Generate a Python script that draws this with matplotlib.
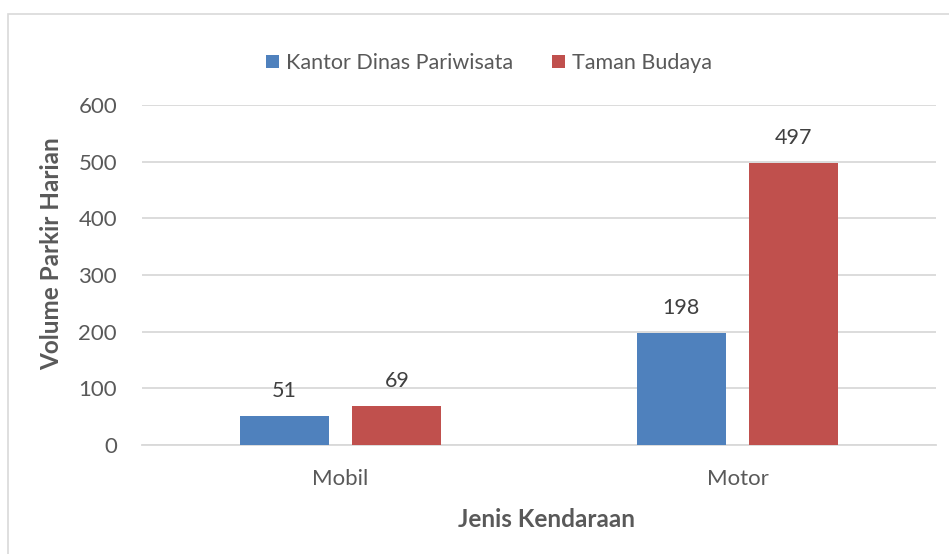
import matplotlib
matplotlib.use("Agg")
import matplotlib.pyplot as plt
import numpy as np
from matplotlib.patches import Rectangle

plt.rcParams['font.family'] = ['Lato', 'DejaVu Sans']

# data
categories = ['Mobil', 'Motor']
series_names = ['Kantor Dinas Pariwisata', 'Taman Budaya']
kantor = [51, 198]
taman = [69, 497]
y_ticks = [0, 100, 200, 300, 400, 500, 600]

colors = ['#4F81BD', '#C0504D']
text_color = '#595959'
grid_color = '#D9D9D9'

fig = plt.figure(figsize=(9.49, 5.54), dpi=100)
ax = fig.add_axes([142 / 949, 109 / 554, 794 / 949, 340 / 554])

# outer chart border like Excel
fig.patches.append(Rectangle((8 / 949, -0.01), 1.0, (554 - 14) / 554 + 0.01,
                             transform=fig.transFigure, fill=False,
                             edgecolor=grid_color, linewidth=1.2))

x = np.arange(len(categories))
width = 0.224
offset = 0.142

for vals, off, col, name in zip([kantor, taman], [-offset, offset], colors, series_names):
    b = ax.bar(x + off, vals, width, color=col, label=name, zorder=3)
    for rect, v in zip(b, vals):
        ax.annotate(str(v), (rect.get_x() + rect.get_width() / 2, v),
                    xytext=(0, 11), textcoords='offset points',
                    ha='center', va='bottom', fontsize=15.5, color='#404040')

ax.set_xlim(-0.5, 1.5)
ax.set_ylim(0, 600)
ax.set_yticks(y_ticks)
ax.set_xticks(x)
ax.set_xticklabels(categories)
ax.yaxis.grid(True, color=grid_color, linewidth=1.3, zorder=0)
ax.set_axisbelow(True)
for s in ['top', 'right', 'left']:
    ax.spines[s].set_visible(False)
ax.spines['bottom'].set_color(grid_color)
ax.spines['bottom'].set_linewidth(1.3)
ax.tick_params(axis='both', length=0, labelsize=16, labelcolor=text_color)
ax.tick_params(axis='y', pad=18)
ax.tick_params(axis='x', pad=17)

ax.set_ylabel('Volume Parkir Harian', fontsize=17.5, fontweight='bold',
              color=text_color)
ax.yaxis.set_label_coords(-0.099, 0.562)
ax.set_xlabel('Jenis Kendaraan', fontsize=17.5, fontweight='bold',
              color=text_color)
ax.xaxis.set_label_coords(0.509, -0.185)

leg = fig.legend(loc='center', bbox_to_anchor=(489 / 949, 1 - 63 / 554), ncol=2,
                 frameon=False, fontsize=15.5, handlelength=0.6, handleheight=0.6,
                 handletextpad=0.35, columnspacing=1.8)
for t in leg.get_texts():
    t.set_color(text_color)

fig.savefig('out.png', dpi=100)
